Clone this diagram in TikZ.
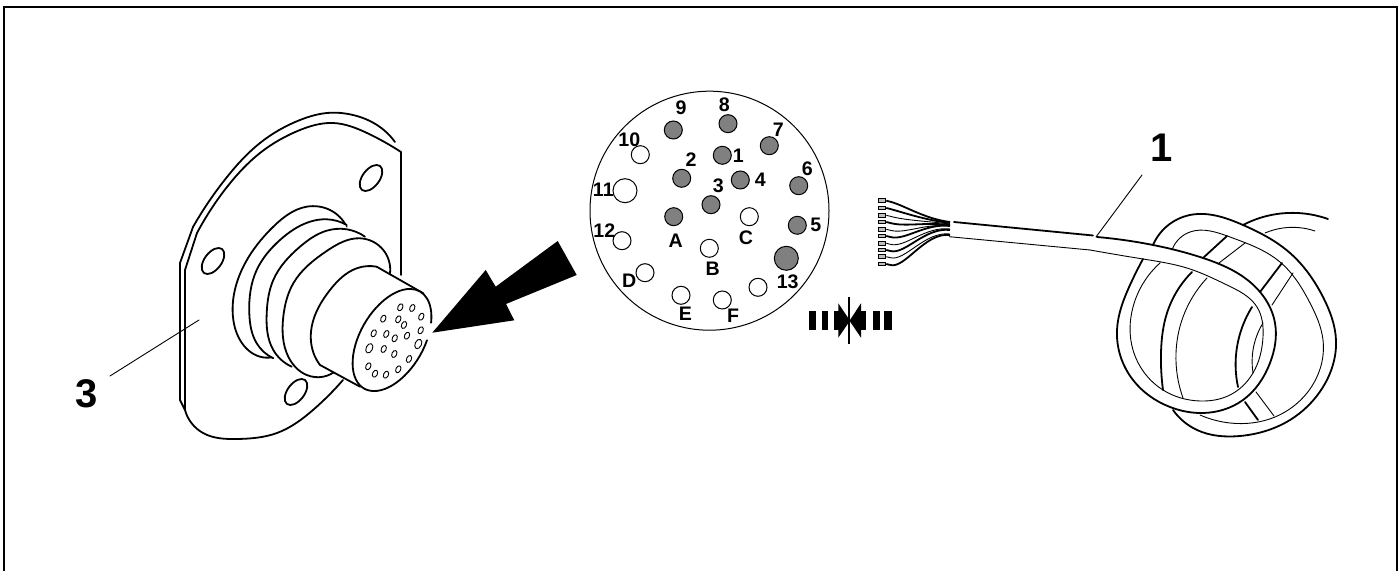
\documentclass[tikz,border=0pt]{standalone}
\usepackage{fontspec}
\setmainfont{Liberation Sans}
\usetikzlibrary{hobby}
\tikzset{
  heavy/.style={line width=0.9pt,line cap=round,line join=round,use Hobby shortcut},
  fine/.style={line width=0.45pt,line cap=round,line join=round,use Hobby shortcut},
  pinfull/.style={circle,draw,fill=black!50,inner sep=0pt,minimum size=9pt,line width=0.5pt},
  pinfree/.style={circle,draw,fill=white,inner sep=0pt,minimum size=9pt,line width=0.5pt},
  pinlabel/.style={inner sep=0pt,font=\bfseries\fontsize{9.8}{9.8}\selectfont},
  partlabel/.style={inner sep=0pt,font=\bfseries\fontsize{20}{20}\selectfont},
  plug/.style={rectangle,draw,fill=black!25,inner sep=0pt,minimum width=3.8pt,minimum height=1.8pt,line width=0.5pt},
}
\begin{document}
\begin{tikzpicture}[x=0.5pt,y=-0.5pt]
  \useasboundingbox (0,0) rectangle (1399,571);

  \draw[line width=1pt] (4,571) -- (4,7) -- (1397,7) -- (1397,571);

  % flange
  \begin{scope}
    \draw[heavy] (193,227) .. (227,177) .. (260,143) .. (300,120) .. (327,113) .. (353,115) .. (377,125) .. (395,142);
    \draw[heavy] (185,410) -- (180,400) -- (180,263) -- (193,227);
    \draw[heavy] (197,233) .. (227,187) .. (260,153) .. (300,130) .. (333,123) .. (367,133) .. (401,152);
    \draw[heavy] (401,152) -- (401,275);
    \draw[heavy] (197,233) -- (185,270) -- (185,410);
    \draw[heavy] (185,410) .. (203,433) .. (237,439) .. (277,433) .. (313,410) .. (343,380);
    \draw[heavy,rotate around={53:(371,178)}] (371,178) ellipse (15 and 8.5);
    \draw[heavy,rotate around={53:(213,261)}] (213,261) ellipse (15 and 8.5);
    \draw[heavy,rotate around={53:(296,392)}] (296,392) ellipse (15 and 8.5);

    \draw[heavy,fill=white] (346.7,226.7) .. (330,210) .. (306.7,206.7) .. (273.3,226.7) .. (243.3,266.7) .. (232.7,313.3) .. (240,340) .. (260,356.7) .. (271.7,357.3);
    \draw[heavy,fill=white] (346.7,225) .. (326.7,219.3) .. (310,221.7) .. (280,240) .. (256.7,270) .. (249.3,313.3) .. (256.7,343.3) .. (273.3,358.3);
    \draw[heavy,fill=white] (365,236.7) .. (346.7,229.3) .. (326.7,230.7) .. (300,246.7) .. (273.3,280) .. (266.7,313.3) .. (273.3,350) .. (291.7,366.7);
    \draw[heavy,fill=white] (390,273.3) .. (383.3,250) .. (360,238.3) .. (326.7,251) .. (293.3,283.3) .. (283.3,316.7) .. (288.3,356.7) .. (306.7,375) .. (323.3,376.7) .. (336.7,370);
    \fill[white] (376.7,266.7) -- (330,290) -- (311.7,326.7) -- (320,365) -- (360,386.7) -- (423.3,293.3) -- cycle;
    \draw[heavy,fill=white] (376.7,266.7) .. (356.7,268.3) .. (330,290) .. (311.7,326.7) .. (315,356.7) .. (320,365);
    \draw[heavy] (320,365) -- (360,386.7);
    \draw[heavy] (376.7,266.7) -- (423.3,293.3);

    \fill[white,shift={(392,340)},rotate=60] (0,0) ellipse (56 and 32);
    \draw[heavy,shift={(392,340)},rotate=60] (72:56 and 32) arc[start angle=72,end angle=412,x radius=56,y radius=32];
    \foreach \hx/\hy in {400.3/307.3,412.3/308,421.3/316.7,383.3/318.7,398.3/319.3,404/325,373.7/333.3,386.3/334,394.7/338.3,407/335.7,420.7/330.3,383.7/349,394.3/354,409/359,368.3/366.3,375/373.7,386/374.7,398.3/369.3}
      \draw[fine,rotate around={65:(\hx,\hy)}] (\hx,\hy) ellipse (3.7 and 2.4);
    \foreach \hx/\hy in {369.3/348.3,418.3/344}
      \draw[fine,rotate around={65:(\hx,\hy)}] (\hx,\hy) ellipse (5 and 3.2);
  \end{scope}

  % big arrow
  \fill (432.3,332.7) -- (485.7,270) -- (495.7,286.7) -- (557.7,241) -- (576.7,275) -- (506,304) -- (514.3,320.3) -- cycle;

  % pin layout
  \node[circle,draw,line width=0.5pt,minimum size=119.5pt,inner sep=0pt] (face) at (709.5,210.7) {};
  \node[pinfull] (p9) at (673.3,130) {};
  \node[pinfull] (p8) at (728,123.7) {};
  \node[pinfull] (p7) at (769.3,145.7) {};
  \node[pinfull] (p1) at (722.3,155.3) {};
  \node[pinfull] (p2) at (681.7,178.3) {};
  \node[pinfull] (p4) at (740.3,180) {};
  \node[pinfull] (p6) at (798.7,185.7) {};
  \node[pinfull] (p3) at (711,204.7) {};
  \node[pinfull] (pA) at (673.7,216.7) {};
  \node[pinfull] (p5) at (797.3,225.3) {};
  \node[pinfull,minimum size=12pt] (p13) at (786.3,258.3) {};
  \node[pinfree] (p10) at (640.3,154.7) {};
  \node[pinfree,minimum size=12pt] (p11) at (625,190.7) {};
  \node[pinfree] (p12) at (622,240.7) {};
  \node[pinfree] (pC) at (749.3,216.7) {};
  \node[pinfree] (pB) at (709.3,248.3) {};
  \node[pinfree] (pD) at (645,272.7) {};
  \node[pinfree] (pE) at (681,295.3) {};
  \node[pinfree] (pF) at (722.3,300) {};
  \node[pinfree] (pX) at (758,287.3) {};

  \node[pinlabel] (l9) at (681,107.3) {9};
  \node[pinlabel] (l8) at (724.3,105) {8};
  \node[pinlabel] (l7) at (778.3,129.3) {7};
  \node[pinlabel] (l10) at (629.3,139.3) {10};
  \node[pinlabel] (l1) at (738.3,155.3) {1};
  \node[pinlabel] (l2) at (691,160) {2};
  \node[pinlabel] (l4) at (760.3,179.3) {4};
  \node[pinlabel] (l6) at (807.3,168.7) {6};
  \node[pinlabel] (l3) at (718.3,185.3) {3};
  \node[pinlabel] (l11) at (603.3,190) {11};
  \node[pinlabel] (l5) at (815.7,225.3) {5};
  \node[pinlabel] (l12) at (604.3,230.7) {12};
  \node[pinlabel] (lA) at (675.7,240.3) {A};
  \node[pinlabel] (lC) at (746,237.3) {C};
  \node[pinlabel] (lB) at (712.7,268.3) {B};
  \node[pinlabel] (l13) at (787.7,281.7) {13};
  \node[pinlabel] (lD) at (629.3,281) {D};
  \node[pinlabel] (lE) at (685.3,314) {E};
  \node[pinlabel] (lF) at (733,315.7) {F};

  % crimp mark
  \fill (809,311) rectangle (816,330);
  \fill (821.7,311) rectangle (828.3,330);
  \fill (834.3,311) rectangle (839,330);
  \fill (838.3,303.3) -- (850,320.7) -- (838.3,337.7) -- cycle;
  \fill (884,311) rectangle (891.7,330);
  \fill (872.7,311) rectangle (880,330);
  \fill (860.5,311) rectangle (865.5,330);
  \fill (861,303.3) -- (849.5,320.7) -- (861,337.7) -- cycle;
  \draw[line width=1pt] (849.3,296.7) -- (849.3,344.3);

  % wires
  \foreach \i/\wy/\wend/\wwd in {1/200.7/222/0.9pt,2/208/223/0.9pt,3/215.3/224/0.45pt,4/222/225/0.9pt,5/229.3/226/0.45pt,6/236/226/0.9pt,7/243.3/229/0.45pt,8/250/230/0.9pt,9/256.7/234/0.45pt,10/264/235/0.9pt}{
    \node[plug] (w\i) at (882,\wy) {};
    \draw[line width=\wwd] (w\i.east) -- +(4,1) .. controls (905,\wy+5) and (925,\wend-3) .. (950,\wend);
  }

  % cable loop
  \draw[heavy] (1243,225) .. (1277,214) .. (1328,219);
  \draw[fine] (1265,233) .. (1283,228) .. (1315,231);
  \draw[heavy] (1173,410) .. (1197,430) .. (1240,436) .. (1290,420) .. (1323,387) .. (1336,340) .. (1323,297) .. (1290,253) .. (1243,225) .. (1190,215) .. (1153,245);
  \draw[fine] (1172,250) .. (1190,232) .. (1230,237) .. (1280,262) .. (1310,303) .. (1323,340) .. (1307,393) .. (1275,417) .. (1230,423) .. (1200,415);
  \draw[heavy] (1227,236) -- (1203,258);
  \draw[fine] (1245,243) -- (1219,263);
  \draw[heavy] (1282,263) -- (1260,292);
  \draw[fine] (1293,273) -- (1272,305);
  \draw[heavy] (1192,272) .. (1167,313) .. (1161,353) .. (1163,390);
  \draw[fine] (1207,278) .. (1183,317) .. (1176,353) .. (1183,398);
  \draw[heavy] (1252,307) .. (1237,347) .. (1238,387);
  \draw[fine] (1263,323) .. (1253,350) .. (1253,373);
  \draw[heavy] (1245,402) -- (1258,420);
  \draw[fine] (1256,392) -- (1274,416);
  \draw[heavy] (954,222) -- (1093,235.5);
  \draw[heavy] (1097,237) .. (1153,245) .. (1203,258) .. (1250,282) .. (1275,323) .. (1270,363) .. (1243,400) .. (1203,413) .. (1170,407) .. (1133,380) .. (1117,330) .. (1130,285) .. (1143,259);
  \draw[fine] (949.3,236.7) -- (1090,250);
  \draw[fine] (1090,250) .. (1143,259) .. (1190,269) .. (1227,285) .. (1257,307) .. (1263,337) .. (1253,373) .. (1230,395) .. (1200,401) .. (1163,390) .. (1133,350) .. (1133,307) .. (1160,263);

  % part labels
  \node[partlabel] (n3) at (87,394) {3};
  \node[partlabel] (n1) at (1162,148) {1};
  \coordinate (c3a) at (110,376);
  \coordinate (c3b) at (199,320);
  \coordinate (c1a) at (1142,175);
  \coordinate (c1b) at (1096,237);
  \draw[fine] (c3a) -- (c3b);
  \draw[fine] (c1a) -- (c1b);
\end{tikzpicture}
\end{document}
